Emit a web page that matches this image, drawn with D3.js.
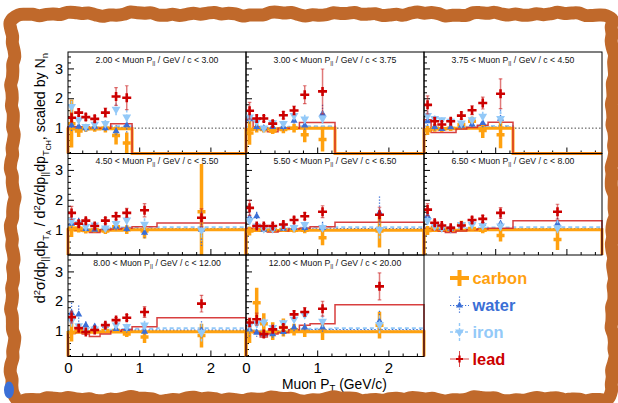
<!DOCTYPE html>
<html>
<head>
<meta charset="utf-8">
<script src="https://cdn.jsdelivr.net/npm/d3@7"></script>
<style>
  body { margin: 0; background: #fff; }
  svg { display: block; }
  text { font-family: "Liberation Sans", Arial, Helvetica, sans-serif; }
</style>
</head>
<body>
<svg id="chart" width="618" height="403"></svg>
<script>
// Muon transverse-momentum binning (GeV/c) and bin centres used for the points
const binEdges   = [0, 0.1, 0.2, 0.3, 0.45, 0.6, 0.75, 0.9, 1.25, 2.5];
const binCenters = [0.05, 0.15, 0.25, 0.375, 0.525, 0.675, 0.825, 1.075, 1.875];

// Longitudinal-momentum slices (GeV/c), one panel each
const pLow  = ["2.00", "3.00", "3.75", "4.50", "5.50", "6.50", "8.00", "12.00"];
const pHigh = ["3.00", "3.75", "4.50", "5.50", "6.50", "8.00", "12.00", "20.00"];

const yTickValues = [1, 2, 3];
const xTickValues = [0, 1, 2];
const targetNames = ["carbon", "water", "iron", "lead"];

// Data ratios (target / CH) per slice, null where the bin is not measured
const carbonRatio = [
  [1.15, 0.90, 1.00, 1.00, 1.00, 0.75, 0.50, null, null],
  [0.84, 1.00, 0.95, 0.90, 0.95, 1.00, 0.78, 0.62, null],
  [0.92, 1.00, 0.97, 1.00, 1.12, 1.23, 0.92, 0.78, null],
  [1.05, 1.05, 0.97, 1.00, 0.95, 1.10, 1.00, 0.95, 1.60],
  [0.95, 1.00, 0.98, 1.00, 1.00, 0.98, 0.98, 0.73, 0.95],
  [0.97, 1.07, 1.03, 1.04, 1.20, 1.04, 0.98, 0.80, 0.67],
  [0.95, 1.02, 0.98, 1.02, 1.02, 1.02, 0.90, 0.80, 0.85],
  [1.00, 1.95, 1.25, 1.00, 1.12, 1.05, 1.00, 1.00, 1.20]
];
const carbonError = [
  [0.80, 0.20, 0.12, 0.12, 0.15, 0.30, 0.35, null, null],
  [0.40, 0.15, 0.10, 0.10, 0.12, 0.15, 0.25, 0.40, null],
  [0.15, 0.12, 0.10, 0.10, 0.12, 0.15, 0.25, 0.45, null],
  [0.30, 0.15, 0.10, 0.10, 0.10, 0.12, 0.15, 0.25, 1.60],
  [0.15, 0.08, 0.06, 0.06, 0.08, 0.08, 0.10, 0.25, 0.55],
  [0.15, 0.08, 0.06, 0.06, 0.10, 0.08, 0.10, 0.20, 0.35],
  [0.30, 0.10, 0.06, 0.06, 0.08, 0.08, 0.10, 0.20, 0.40],
  [0.40, 0.50, 0.35, 0.30, 0.30, 0.20, 0.20, 0.30, 0.45]
];
const waterRatio = [
  [1.10, 1.05, 1.00, 1.05, 1.00, 0.90, 1.10, null, null],
  [1.30, 1.04, 1.00, 1.04, 1.04, 1.25, 1.09, 1.48, null],
  [1.23, 1.04, 0.97, 1.03, 1.08, 1.12, 1.17, 1.32, null],
  [1.20, 1.25, 1.02, 1.00, 1.05, 1.10, 1.02, 0.90, 1.00],
  [1.40, 1.45, 1.00, 1.03, 1.03, 1.06, 1.06, 1.06, 1.56],
  [1.45, 1.17, 1.06, 1.03, 1.14, 1.25, 1.20, 1.20, 1.20],
  [1.60, 1.56, 1.20, 1.15, 1.18, 1.07, 1.07, 0.98, 1.03],
  [1.06, 0.95, 0.90, 0.90, 0.97, 1.12, 1.12, 1.12, 1.33]
];
const waterError = [
  [0.25, 0.15, 0.12, 0.12, 0.15, 0.20, 0.30, null, null],
  [0.20, 0.12, 0.10, 0.10, 0.12, 0.15, 0.20, 0.30, null],
  [0.20, 0.12, 0.10, 0.10, 0.12, 0.15, 0.20, 0.30, null],
  [0.20, 0.15, 0.10, 0.10, 0.10, 0.12, 0.15, 0.25, 0.60],
  [0.20, 0.15, 0.08, 0.08, 0.08, 0.10, 0.12, 0.20, 0.55],
  [0.20, 0.12, 0.08, 0.08, 0.10, 0.12, 0.12, 0.20, 0.30],
  [0.35, 0.30, 0.12, 0.10, 0.10, 0.10, 0.12, 0.15, 0.30],
  [0.30, 0.20, 0.15, 0.12, 0.12, 0.12, 0.15, 0.20, 0.35]
];
const ironRatio = [
  [1.72, 1.28, 1.05, 1.13, 1.15, 1.63, 1.37, null, null],
  [1.37, 1.22, 1.00, 1.18, 1.15, 1.42, 1.30, 1.33, null],
  [1.42, 1.32, 1.28, 1.23, 1.17, 1.28, 1.40, 1.32, null],
  [1.30, 1.20, 1.10, 1.15, 1.05, 1.20, 1.32, 1.18, 0.98],
  [1.30, 1.12, 1.03, 1.03, 1.12, 1.07, 1.17, 1.07, 1.00],
  [1.30, 1.12, 1.06, 1.03, 1.17, 1.17, 1.14, 1.12, 1.06],
  [1.35, 1.18, 1.05, 1.07, 1.15, 1.20, 1.15, 1.20, 0.95],
  [1.20, 1.25, 1.30, 1.12, 1.28, 1.40, 1.55, 1.33, 1.22]
];
const ironError = [
  [0.20, 0.12, 0.10, 0.10, 0.12, 0.20, 0.25, null, null],
  [0.15, 0.10, 0.08, 0.08, 0.10, 0.12, 0.15, 0.25, null],
  [0.15, 0.10, 0.08, 0.08, 0.10, 0.12, 0.15, 0.25, null],
  [0.15, 0.10, 0.08, 0.08, 0.10, 0.12, 0.15, 0.20, 0.35],
  [0.15, 0.08, 0.06, 0.06, 0.08, 0.08, 0.10, 0.15, 0.30],
  [0.15, 0.08, 0.06, 0.06, 0.08, 0.08, 0.10, 0.15, 0.25],
  [0.20, 0.10, 0.06, 0.06, 0.08, 0.08, 0.10, 0.15, 0.30],
  [0.20, 0.15, 0.12, 0.10, 0.10, 0.12, 0.12, 0.20, 0.30]
];
const leadRatio = [
  [1.35, 1.52, 1.37, 1.31, 1.52, 2.06, 2.02, null, null],
  [1.58, 1.32, 1.32, 1.15, 1.43, 1.59, 2.12, 2.23, null],
  [1.78, 1.23, 1.12, 1.23, 1.42, 1.60, 1.84, 2.15, null],
  [1.56, 1.20, 1.30, 1.12, 1.30, 1.45, 1.56, 1.65, 1.40],
  [1.73, 1.12, 1.12, 1.12, 1.17, 1.32, 1.45, 1.60, 1.50],
  [1.67, 1.23, 1.14, 1.06, 1.14, 1.32, 1.36, 1.56, 1.60],
  [1.47, 1.10, 0.97, 1.04, 1.20, 1.37, 1.45, 1.64, 1.92],
  [1.29, 1.40, 0.90, 1.06, 1.12, 1.56, 1.64, 1.75, 2.50]
];
const leadError = [
  [0.15, 0.12, 0.10, 0.10, 0.15, 0.30, 0.40, null, null],
  [0.28, 0.12, 0.10, 0.10, 0.12, 0.15, 0.30, 0.75, null],
  [0.30, 0.12, 0.10, 0.10, 0.12, 0.15, 0.20, 0.50, null],
  [0.22, 0.10, 0.08, 0.08, 0.10, 0.12, 0.15, 0.22, 0.30],
  [0.25, 0.08, 0.08, 0.08, 0.08, 0.10, 0.12, 0.20, 0.25],
  [0.20, 0.08, 0.06, 0.06, 0.08, 0.10, 0.12, 0.18, 0.25],
  [0.20, 0.10, 0.06, 0.06, 0.08, 0.08, 0.10, 0.18, 0.28],
  [0.15, 0.20, 0.10, 0.08, 0.10, 0.12, 0.15, 0.25, 0.45]
];

// Simulated ratios, drawn as histograms over binEdges (0 = empty bin)
const carbonMC = [
  [0.97, 1.00, 0.98, 0.97, 1.00, 0.98, 0.98, 0, 0],
  [0.95, 0.98, 0.97, 0.97, 0.98, 1.00, 1.00, 1.00, 0],
  [0.95, 0.97, 0.97, 0.98, 1.00, 1.00, 1.00, 1.00, 0],
  [1.00, 0.98, 0.97, 0.97, 0.98, 0.98, 1.00, 1.00, 1.00],
  [0.98, 0.97, 0.97, 0.96, 0.97, 0.98, 0.98, 0.98, 0.98],
  [0.98, 0.97, 0.97, 0.97, 0.98, 0.98, 1.00, 1.00, 1.00],
  [0.95, 0.97, 0.96, 0.96, 0.97, 0.97, 0.98, 0.98, 0.98],
  [0.98, 0.97, 0.97, 0.96, 0.97, 0.98, 0.98, 0.98, 0.98]
];
const waterMC = [
  [1.02, 1.02, 1.00, 1.00, 1.02, 1.02, 1.02, 0, 0],
  [1.00, 1.00, 1.00, 0.98, 1.00, 1.02, 1.02, 1.02, 0],
  [1.00, 1.00, 0.99, 0.99, 1.00, 1.02, 1.03, 1.03, 0],
  [1.03, 1.00, 0.98, 0.98, 1.00, 1.02, 1.02, 1.03, 1.03],
  [1.02, 1.00, 0.98, 0.98, 1.00, 1.00, 1.02, 1.02, 1.03],
  [1.02, 1.00, 0.98, 0.98, 1.00, 1.00, 1.02, 1.02, 1.03],
  [1.00, 0.98, 0.97, 0.97, 0.98, 1.00, 1.02, 1.03, 1.03],
  [1.02, 1.00, 0.98, 0.98, 1.00, 1.02, 1.03, 1.05, 1.05]
];
const ironMC = [
  [1.05, 1.05, 1.03, 1.02, 1.04, 1.06, 1.06, 0, 0],
  [1.05, 1.03, 1.02, 1.00, 1.03, 1.05, 1.06, 1.06, 0],
  [1.06, 1.03, 1.00, 1.00, 1.03, 1.05, 1.07, 1.07, 0],
  [1.08, 1.05, 1.02, 1.02, 1.04, 1.06, 1.07, 1.08, 1.08],
  [1.07, 1.04, 1.02, 1.02, 1.04, 1.05, 1.06, 1.07, 1.08],
  [1.07, 1.04, 1.02, 1.02, 1.03, 1.05, 1.06, 1.07, 1.08],
  [1.05, 1.03, 1.00, 1.00, 1.02, 1.05, 1.07, 1.08, 1.10],
  [1.05, 1.03, 1.02, 1.02, 1.03, 1.05, 1.07, 1.08, 1.10]
];
const leadMC = [
  [1.05, 1.05, 1.05, 1.00, 1.00, 1.15, 1.15, 0, 0],
  [1.30, 1.05, 1.00, 0.88, 1.00, 1.00, 1.19, 1.19, 0],
  [1.28, 0.85, 0.85, 0.85, 0.97, 1.02, 1.10, 1.20, 0],
  [1.05, 1.00, 1.00, 0.90, 1.00, 1.02, 1.05, 1.10, 1.22],
  [1.05, 1.00, 0.95, 0.92, 0.95, 1.02, 1.05, 1.10, 1.25],
  [1.05, 1.00, 0.95, 0.90, 0.95, 1.00, 1.02, 1.05, 1.30],
  [0.92, 0.95, 0.90, 0.82, 0.90, 1.00, 1.05, 1.15, 1.45],
  [1.00, 0.95, 0.80, 0.90, 0.95, 1.05, 1.20, 1.25, 1.88]
];

// ---- styling ----
const col = {
  carbon: "#ffa10f",
  water: "#3b6fd6",
  iron: "#93c9f8",
  lead: "#cc0000",
  frame: "#c0692b"
};

const svg = d3.select("#chart");
const W = 618, H = 403;
svg.append("rect").attr("width", W).attr("height", H).attr("fill", "#fff");

const colX = [68, 246, 424];
const rowY = [52, 153.5, 255];
const pw = 178, ph = 101.5;

const x = d3.scaleLinear().domain([0, 2.5]).range([0, pw]);
const y = d3.scaleLinear().domain([0.15, 3.55]).range([ph, 0]);
const yc = y.copy().clamp(true);

const minorY = d3.range(0.2, 3.55, 0.2).filter(v => Math.abs(v - Math.round(v)) > 0.01);
const minorX = d3.range(0.2, 2.5, 0.2).filter(v => Math.abs(v - Math.round(v)) > 0.01);

const defs = svg.append("defs");

function histPath(vals) {
  let d = `M${x(binEdges[0])},${yc(0)}`;
  vals.forEach((v, i) => {
    d += `V${yc(v)}H${x(binEdges[i + 1])}`;
  });
  d += `V${yc(0)}`;
  return d;
}

const triUp = d3.symbol().type(d3.symbolTriangle).size(22)();
const triDown = d3.symbol().type(d3.symbolTriangle).size(34)();

pLow.forEach((lo, p) => {
  const c = p % 3, r = Math.floor(p / 3);
  const g = svg.append("g").attr("transform", `translate(${colX[c]},${rowY[r]})`);

  defs.append("clipPath").attr("id", `clip${p}`)
    .append("rect").attr("x", 0).attr("y", 0).attr("width", pw).attr("height", ph);

  // axes ticks (inward)
  const yMinor = g.append("g").call(d3.axisLeft(y).tickValues(minorY).tickSize(-3).tickFormat(""));
  const yMajor = g.append("g").call(d3.axisLeft(y).tickValues(yTickValues).tickSize(-6).tickPadding(5)
    .tickFormat(c === 0 ? d3.format("d") : ""));
  const xMinor = g.append("g").attr("transform", `translate(0,${ph})`)
    .call(d3.axisBottom(x).tickValues(minorX).tickSize(-3).tickFormat(""));
  const xMajor = g.append("g").attr("transform", `translate(0,${ph})`)
    .call(d3.axisBottom(x).tickValues(xTickValues).tickSize(-6).tickPadding(6)
      .tickFormat(r === 2 ? d3.format("d") : ""));
  [yMinor, yMajor, xMinor, xMajor].forEach(a => {
    a.select(".domain").remove();
    a.selectAll("line").attr("stroke", "#000").attr("stroke-width", 1);
  });
  yMajor.selectAll("text").attr("font-size", 14.5).attr("fill", "#000")
    .attr("font-family", "Liberation Sans, Arial, sans-serif");
  xMajor.selectAll("text").attr("font-size", 15).attr("fill", "#000")
    .attr("font-family", "Liberation Sans, Arial, sans-serif");

  // reference line at unity
  g.append("line").attr("x1", 0).attr("x2", pw).attr("y1", y(1)).attr("y2", y(1))
    .attr("stroke", "#333").attr("stroke-width", 0.9).attr("stroke-dasharray", "1.5,2");

  // simulated ratios
  g.append("path").attr("d", histPath(ironMC[p])).attr("fill", "none")
    .attr("stroke", col.iron).attr("stroke-width", 2).attr("stroke-dasharray", "4,3");
  g.append("path").attr("d", histPath(waterMC[p])).attr("fill", "none")
    .attr("stroke", col.water).attr("stroke-width", 1.4).attr("stroke-dasharray", "1.5,2");
  g.append("path").attr("d", histPath(carbonMC[p])).attr("fill", "none")
    .attr("stroke", col.carbon).attr("stroke-width", 3);
  g.append("path").attr("d", histPath(leadMC[p])).attr("fill", "none")
    .attr("stroke", "#d42a2a").attr("stroke-width", 1.5).attr("stroke-opacity", 0.9);

  // measured points
  const pts = g.append("g").attr("clip-path", `url(#clip${p})`);

  function series(vals, errs, drawer) {
    vals.forEach((v, i) => {
      if (v === null) return;
      drawer(pts, x(binCenters[i]), y(v), y(v + errs[i]), y(v - errs[i]));
    });
  }

  series(carbonRatio[p], carbonError[p], (s, px, py, yt, yb) => {
    s.append("line").attr("x1", px).attr("x2", px).attr("y1", yt).attr("y2", yb)
      .attr("stroke", col.carbon).attr("stroke-width", 3.5);
    s.append("line").attr("x1", px - 4).attr("x2", px + 4).attr("y1", py).attr("y2", py)
      .attr("stroke", col.carbon).attr("stroke-width", 3.5);
  });
  series(waterRatio[p], waterError[p], (s, px, py, yt, yb) => {
    s.append("line").attr("x1", px).attr("x2", px).attr("y1", yt).attr("y2", yb)
      .attr("stroke", col.water).attr("stroke-width", 1.3).attr("stroke-dasharray", "1.2,1.8");
    s.append("path").attr("d", triUp).attr("transform", `translate(${px},${py})`).attr("fill", col.water);
  });
  series(ironRatio[p], ironError[p], (s, px, py, yt, yb) => {
    s.append("line").attr("x1", px).attr("x2", px).attr("y1", yt).attr("y2", yb)
      .attr("stroke", col.iron).attr("stroke-width", 1.6).attr("stroke-dasharray", "3,2");
    s.append("path").attr("d", triDown).attr("transform", `translate(${px},${py}) rotate(180)`).attr("fill", col.iron);
  });
  series(leadRatio[p], leadError[p], (s, px, py, yt, yb) => {
    s.append("line").attr("x1", px).attr("x2", px).attr("y1", yt).attr("y2", yb)
      .attr("stroke", "#cc2020").attr("stroke-opacity", 0.6).attr("stroke-width", 1.5);
    [yt, yb].forEach(e => s.append("line").attr("x1", px - 1.8).attr("x2", px + 1.8)
      .attr("y1", e).attr("y2", e).attr("stroke", "#cc2020").attr("stroke-opacity", 0.6).attr("stroke-width", 1.2));
    s.append("path").attr("d", `M${px - 4.5},${py}H${px + 4.5}M${px},${py - 4.5}V${py + 4.5}`)
      .attr("stroke", col.lead).attr("stroke-width", 2.6);
  });

  // panel frame
  g.append("rect").attr("width", pw).attr("height", ph).attr("fill", "none")
    .attr("stroke", "#000").attr("stroke-width", 1);

  // slice label
  const t = g.append("text").attr("x", pw / 2).attr("y", 10.5).attr("text-anchor", "middle")
    .attr("font-size", 8.7).attr("fill", "#111");
  t.append("tspan").text(`${lo} < Muon P`);
  t.append("tspan").attr("font-size", 6).attr("dy", 2.2).text("||");
  t.append("tspan").attr("dy", -2.2).text(` / GeV / c < ${pHigh[p]}`);
});

// x axis title
const xt = svg.append("text").attr("x", 282).attr("y", 388.5).attr("font-size", 13.8).attr("fill", "#000");
xt.append("tspan").text("Muon P");
xt.append("tspan").attr("font-size", 9.5).attr("dy", 2.5).text("T");
xt.append("tspan").attr("dy", -2.5).text(" (GeV/c)");

// y axis title
const yt = svg.append("text").attr("transform", "translate(45,178) rotate(-90)")
  .attr("text-anchor", "middle").attr("font-size", 14.2).attr("fill", "#000");
const yParts = [
  ["d", 0, 14.2], ["2", -5, 9.5], ["σ/dp", 5, 14.2], ["||", 3, 9.5], ["dp", -3, 14.2],
  ["T", 3.5, 9.5], ["A", 2.5, 7], [" / d", -6, 14.2], ["2", -5, 9.5], ["σ/dp", 5, 14.2],
  ["||", 3, 9.5], ["dp", -3, 14.2], ["T", 3.5, 9.5], ["CH", 2.5, 7], [", scaled by N", -6, 14.2],
  ["n", 3, 9.5]
];
yParts.forEach(([s, dy, fs]) => yt.append("tspan").attr("dy", dy).attr("font-size", fs).text(s));

// legend
const legendRows = [278, 305.5, 332, 359];
const lx = 459.5;
const lg = svg.append("g");
targetNames.forEach((name, i) => {
  const cy = legendRows[i];
  if (name === "carbon") {
    lg.append("line").attr("x1", lx - 9.5).attr("x2", lx + 9.5).attr("y1", cy).attr("y2", cy)
      .attr("stroke", col.carbon).attr("stroke-width", 4);
    lg.append("line").attr("x1", lx).attr("x2", lx).attr("y1", cy - 8).attr("y2", cy + 8)
      .attr("stroke", col.carbon).attr("stroke-width", 4);
  } else if (name === "water") {
    lg.append("line").attr("x1", lx - 9.5).attr("x2", lx + 9.5).attr("y1", cy).attr("y2", cy)
      .attr("stroke", col.water).attr("stroke-width", 1.2).attr("stroke-dasharray", "1.2,1.8");
    lg.append("line").attr("x1", lx).attr("x2", lx).attr("y1", cy - 9).attr("y2", cy + 9)
      .attr("stroke", col.water).attr("stroke-width", 1.2).attr("stroke-dasharray", "1.2,1.8");
    lg.append("path").attr("d", triUp).attr("transform", `translate(${lx},${cy})`).attr("fill", col.water);
  } else if (name === "iron") {
    lg.append("line").attr("x1", lx - 9.5).attr("x2", lx + 9.5).attr("y1", cy).attr("y2", cy)
      .attr("stroke", col.iron).attr("stroke-width", 1.4).attr("stroke-dasharray", "3,2");
    lg.append("line").attr("x1", lx).attr("x2", lx).attr("y1", cy - 9).attr("y2", cy + 9)
      .attr("stroke", col.iron).attr("stroke-width", 1.4).attr("stroke-dasharray", "3,2");
    lg.append("path").attr("d", triDown).attr("transform", `translate(${lx},${cy}) rotate(180)`).attr("fill", col.iron);
  } else {
    lg.append("line").attr("x1", lx - 9.5).attr("x2", lx + 9.5).attr("y1", cy).attr("y2", cy)
      .attr("stroke", "#d84a4a").attr("stroke-width", 1);
    lg.append("line").attr("x1", lx).attr("x2", lx).attr("y1", cy - 8).attr("y2", cy + 8)
      .attr("stroke", "#d84a4a").attr("stroke-width", 1);
    lg.append("path").attr("d", `M${lx - 3.5},${cy}H${lx + 3.5}M${lx},${cy - 3.5}V${cy + 3.5}`)
      .attr("stroke", col.lead).attr("stroke-width", 2.2);
  }
  lg.append("text").attr("x", 472.5).attr("y", cy).attr("dy", "0.36em")
    .attr("font-size", 16.4).attr("font-weight", "bold").attr("fill", col[name]).text(name);
});

// hand-drawn border around the figure
(function drawBorder() {
  const pts = [];
  const wob = t => 1.3 * Math.sin(t * 0.09) + 0.8 * Math.sin(t * 0.31 + 1.3) + 0.5 * Math.sin(t * 0.77 + 0.4);
  const L = 12.5, R = 613, T = 14, B = 399, step = 7;
  let t = 0;
  for (let xx = L + 6; xx <= R - 6; xx += step, t += step) pts.push([xx, T + wob(t)]);
  for (let yy = T + 6; yy <= B - 6; yy += step, t += step) pts.push([R + wob(t), yy]);
  for (let xx = R - 6; xx >= L + 6; xx -= step, t += step) pts.push([xx, B + wob(t)]);
  for (let yy = B - 6; yy >= T + 6; yy -= step, t += step) pts.push([L + wob(t), yy]);
  svg.append("path").attr("d", d3.line().curve(d3.curveCatmullRomClosed)(pts))
    .attr("fill", "none").attr("stroke", col.frame).attr("stroke-width", 13)
    .attr("stroke-linejoin", "round");
  svg.append("ellipse").attr("cx", 9).attr("cy", 390).attr("rx", 5).attr("ry", 8.5)
    .attr("fill", col.water);
})();
</script>
</body>
</html>
